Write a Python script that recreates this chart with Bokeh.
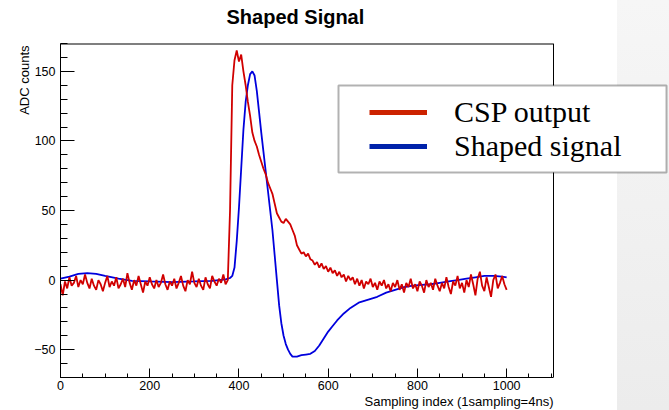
from bokeh.plotting import figure
from bokeh.models import (SingleIntervalTicker, LinearAxis, BoxAnnotation, Span,
                          Legend, LegendItem, Range1d, Title)
from bokeh.embed import file_html
from bokeh.resources import INLINE

# ---------------- data ----------------
title_text = "Shaped Signal"
x_title = "Sampling index (1sampling=4ns)"
y_title = "ADC counts"
series_names = ["CSP output", "Shaped signal"]

# CSP output (red), one value every 5 samples from 0 to 1000
csp_x = list(range(0, 1001, 5))
csp_y = [
    -3, -11, -1, -6, 2, -4, -2, 3, -5, 0, -3, 4, -2, -6, 1, -4, -7, 0, -3, -8,
    -2, 3, -5, -1, -4, 2, -6, -3, 1, -5, 5, -2, -7, 0, -4, 3, -3, -9, -1, -4,
    2, -3, -6, 0, -5, -2, 4, -3, -7, -1, -4, 1, -6, -2, 3, -4, -8, 0, -3, 6,
    -2, -5, 1, -4, -7, 2, -3, -6, 3, -1, -4, 1, -2, 4, -3, 0, 50, 140, 158, 165,
    157, 162, 150, 140, 128, 118, 106, 100, 96, 90, 85, 80, 76, 70, 66, 62, 55, 48, 45, 42,
    41, 44, 42, 40, 36, 32, 25, 22, 19, 20, 17, 19, 15, 14, 11, 13, 9, 12, 8, 10,
    6, 9, 5, 7, 3, 6, 2, 4, -1, 3, 0, 2, -3, 1, -4, 0, -6, -1, -3, 1,
    -5, -2, -7, -1, -4, 0, -6, -3, -8, -2, -5, 0, -7, -3, -9, -2, -5, 1, -6, -3,
    -8, -1, -4, -9, 0, -5, -2, -7, 1, -4, -8, -2, -6, 2, -5, -10, -1, -4, 3, -6,
    -2, -9, 0, -5, 4, -3, -11, 1, 6, -4, -8, 2, -5, -12, 0, 4, -6, -2, 3, -3,
    -7,
]

# Shaped signal (blue)
shaped_x = [0, 20, 40, 60, 80, 100, 130, 160, 200, 250, 300, 340, 370, 380, 385,
            390, 395, 400, 405, 410, 415, 420, 425, 430, 435, 440, 445, 450, 455, 460,
            465, 470, 475, 480, 485, 490, 495, 500, 505, 510, 515, 520, 530, 540, 550,
            560, 570, 580, 590, 600, 610, 620, 635, 650, 670, 690, 710, 730, 750, 770,
            790, 810, 830, 850, 870, 890, 910, 930, 950, 970, 990, 1000]
shaped_y = [1, 2.5, 4.5, 5, 4.5, 3, 1, -0.5, -1, -1.5, -1, -0.5, 0.5, 1.5, 3,
            9, 28, 52, 80, 108, 128, 140, 148, 150, 147, 136, 121, 106, 92, 78,
            64, 50, 36, 18, 0, -18, -31, -40, -46, -50, -53, -55, -55, -54, -53.5,
            -53, -51, -47, -42, -37, -33, -29, -24, -20, -16, -14, -12, -9, -7, -5,
            -4, -3.5, -3, -2, -1, 0, 1, 2, 3, 3, 2.5, 2]

# axis extents of the plotted frame
X_MIN, X_MAX = 0, 1105
Y_MIN, Y_MAX = -70, 170

# ---------------- figure ----------------
W, H = 669, 410
FL, FT, FB = 60, 43, 33
PX_PER_X = 493 / (X_MAX - X_MIN)          # frame of the original ends at x = 553 px
x_view_max = X_MIN + (W - FL) / PX_PER_X  # drawing area reaches the right page edge
frame_bottom = H - FB

p = figure(width=W, height=H, x_range=Range1d(X_MIN, x_view_max), y_range=Range1d(Y_MIN, Y_MAX),
           output_backend="svg", toolbar_location=None, title=None,
           x_axis_location=None, y_axis_location=None,
           min_border_left=FL, min_border_right=0, min_border_top=FT, min_border_bottom=FB)
p.grid.visible = False
p.outline_line_alpha = 0
p.background_fill_alpha = 0
p.border_fill_alpha = 0
p.styles = {"background": "linear-gradient(to right, #ffffff 617px, rgba(255,255,255,0) 617px), "
                          "linear-gradient(to bottom, #f6f6f6, #ececec)"}

xaxis = LinearAxis(ticker=SingleIntervalTicker(interval=200, num_minor_ticks=4), bounds=(X_MIN, X_MAX))
yaxis = LinearAxis(ticker=SingleIntervalTicker(interval=50, num_minor_ticks=5))
for ax in (xaxis, yaxis):
    ax.axis_line_color = "black"
    ax.major_tick_line_color = "black"
    ax.minor_tick_line_color = "black"
    ax.major_tick_out = 0
    ax.minor_tick_out = 0
    ax.major_label_text_font = "Liberation Sans"
    ax.major_label_text_font_size = "12.5px"
    ax.major_label_text_color = "black"
xaxis.major_tick_in = 9
xaxis.minor_tick_in = 4
xaxis.major_label_standoff = 3
yaxis.major_tick_in = 14
yaxis.minor_tick_in = 7
yaxis.major_label_standoff = 5
p.add_layout(xaxis, "below")
p.add_layout(yaxis, "left")

# frame top and right edges
p.segment(x0=[X_MIN], y0=[Y_MAX], x1=[X_MAX], y1=[Y_MAX], line_color="black", line_width=2)
p.add_layout(Span(location=X_MAX, dimension="height", line_color="black", line_width=1))

# data lines
p.line(shaped_x, shaped_y, line_color="#0000dd", line_width=1.8)
p.line(csp_x, csp_y, line_color="#d00000", line_width=1.8)

# titles: a blank spacer next to the frame, then the main title above it
p.add_layout(Title(text=" ", standoff=0, text_font="Liberation Sans", text_font_size="12px"), "above")
p.add_layout(Title(text=title_text, align="left", offset=226 - FL, standoff=0,
                   text_font="Liberation Sans", text_font_style="bold",
                   text_font_size="20px", text_color="black"), "above")
p.add_layout(Title(text=x_title, align="right", offset=W - 553, standoff=-2,
                   text_font="Liberation Sans", text_font_style="normal",
                   text_font_size="13px", text_color="black"), "below")
p.add_layout(Title(text=y_title, align="right", offset=2, standoff=0,
                   text_font="Liberation Sans", text_font_style="normal",
                   text_font_size="13px", text_color="black"), "left")

# legend box
p.add_layout(BoxAnnotation(left=338 - FL, right=666 - FL, top=frame_bottom - 85, bottom=frame_bottom - 172,
                           left_units="screen", right_units="screen",
                           bottom_units="screen", top_units="screen",
                           fill_color="white", fill_alpha=1, line_color="black", line_width=2))
leg_red = p.line(csp_x, csp_y, line_color="#cc2200", line_width=5, visible=False)
leg_blue = p.line(shaped_x, shaped_y, line_color="#0022aa", line_width=5, visible=False)
legend = Legend(items=[LegendItem(label=series_names[0], renderers=[leg_red]),
                       LegendItem(label=series_names[1], renderers=[leg_blue])],
                location=(369 - FL, frame_bottom - 163),
                padding=0, margin=0, spacing=-2,
                glyph_width=58, glyph_height=18, label_height=30, label_standoff=27,
                label_text_font="Liberation Serif", label_text_font_size="30px",
                label_text_color="black", inactive_fill_alpha=0,
                border_line_alpha=0, background_fill_alpha=0)
p.add_layout(legend)

open("out.html", "w").write(file_html(p, INLINE))
